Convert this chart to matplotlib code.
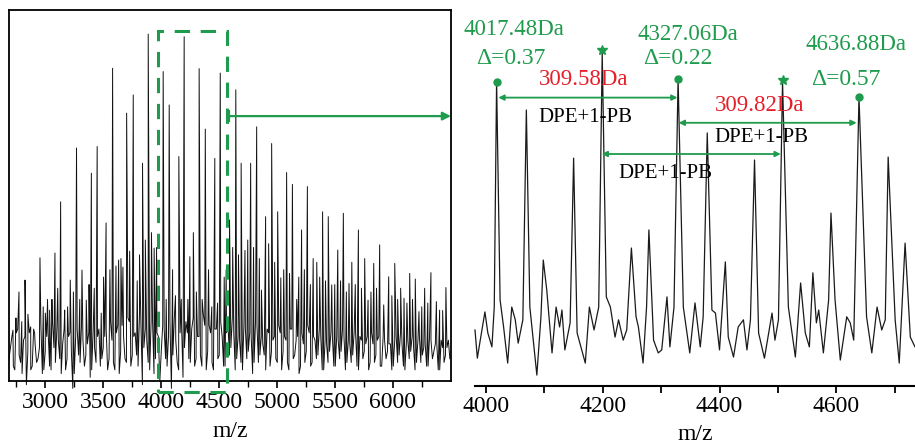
import matplotlib
matplotlib.use("Agg")
import matplotlib.pyplot as plt
from matplotlib.patches import Rectangle

plt.rcParams['font.family'] = ['Liberation Serif', 'DejaVu Serif']

GREEN = '#1e9b4c'
RED = '#e5202b'

# ---------------- Left panel data (overview spectrum) ----------------
left_peak_mz = [2724, 2776, 2828, 2877, 2911, 2957, 3003, 3040, 3086, 3135, 3170, 3218,
                3272, 3319, 3356, 3400, 3450, 3485, 3527, 3583, 3635, 3672, 3704, 3761,
                3795, 3841, 3890, 3941, 4019, 4071, 4100, 4154, 4200, 4249, 4279, 4329,
                4382, 4410, 4464, 4511, 4545, 4562, 4591, 4645, 4691, 4724, 4773, 4825,
                4866, 4902, 4954, 5006, 5033, 5083, 5133, 5170, 5212, 5262, 5312, 5343,
                5393, 5442, 5472, 5524, 5572, 5621, 5645, 5702, 5756, 5785, 5834, 5885,
                5920, 5963, 6015, 6066, 6095, 6144, 6192, 6224, 6273, 6327, 6374, 6402, 6456]
left_peak_int = [13.7, 24, 27.2, 14.6, 12.9, 33.2, 18.3, 19.1, 34.5, 48.3, 19.1, 27.2,
                 62.8, 29.9, 21.8, 56, 63.2, 18.3, 42.6, 84.3, 32.6, 30.7, 72.2, 77.1,
                 27, 58.7, 93.5, 35.8, 83.4, 74.4, 30, 60.5, 92.8, 33.5, 40, 84.2,
                 67.9, 30, 60, 83, 28, 30, 43.4, 78.5, 58.7, 35.2, 58.7, 68.5,
                 24.5, 44.3, 64, 45.6, 27.8, 56.2, 53, 22, 40.7, 52.4, 33, 32,
                 45.6, 44.3, 25.9, 35.3, 45.2, 26.3, 32, 40.7, 33, 21.8, 31.7, 36.7,
                 20.5, 28.1, 31.7, 25, 22.3, 29, 27.5, 18.7, 25, 29.2, 21.4, 19.1, 25.2]

# smaller secondary spikes
left_minor_mz = [2750, 2800, 2853, 2985, 3022, 3060, 3110, 3195, 3245, 3300, 3380, 3425,
                 3505, 3560, 3612, 3655, 3730, 3815, 3865, 3918, 3962, 4045, 4125, 4175,
                 4232, 4305, 4355, 4438, 4488, 4618, 4668, 4748, 4798, 4848, 4928, 4980,
                 5058, 5108, 5188, 5236, 5288, 5368, 5418, 5498, 5548, 5598, 5675, 5728,
                 5810, 5858, 5990, 6040, 6120, 6168, 6248, 6300, 6428]
left_minor_int = [17, 16, 18, 20, 22, 22, 25, 20, 24, 22, 26, 25,
                  28, 30, 31, 33, 35, 34, 38, 40, 36, 22, 23, 22,
                  22, 24, 22, 20, 21, 36, 34, 38, 36, 33, 37, 32,
                  30, 29, 28, 30, 26, 28, 27, 26, 27, 24, 26, 25,
                  24, 25, 23, 22, 21, 22, 20, 21, 19]

# baseline noise read every 25 Da (two interleaved readings)
left_noise_a_start = 2690
left_noise_b_start = 2702.5
left_noise_step = 25
left_noise_a = [6, 12, 3, 14, 5, 11, -1, 13, 4, 10, 6, 15, 3,
                12, 4, 16, 5, 11, 2, 14, 6, 13, -2, 12, 7, 15, 4, 10, 1, 13, 5, 14, 6,
                12, 3, 16, 5, 13, 2, 15, 6, 17, 4, 12, 7, 18, -1, 14, 5, 16, 2, 13, 0,
                15, 6, 12, -2, 17, 5, 13, 1, 16, 6, 14, 4, 12, 7, 18, 3, 15, 5, 14, 6,
                16, 4, 13, 7, 17, 3, 12, 5, 15, 6, 13, 2, 16, 5, 12, 7, 14, 4, 11, 6,
                15, 3, 12, 5, 14, 6, 11, 2, 13, 5, 15, 4, 12, 6, 14, 3, 11, 5, 13, 4,
                12, 6, 14, 3, 11, 5, 13, 4, 12, 6, 10, 3, 13, 5, 11, 4, 12, 6, 10, 3,
                11, 5, 13, 4, 10, 6, 12, 3, 11, 5, 9, 4, 12, 6, 10, 3, 11, 5, 9, 6]
left_noise_b = [9, 4, 13, 7, 2, 12, 8, 3, 14, 5, 9, 2,
                8, 13, 3, 9, 14, 6, 10, 3, 12, 8, 2, 14, 5, 11, 7, 13, 3, 9, 12, 4,
                9, 14, 6, 11, 3, 15, 8, 12, 5, 16, 7, 13, 4, 15, 9, 11, 3, 16, 6, 12,
                8, 14, 4, 16, 7, 11, 3, 15, 9, 13, 5, 17, 6, 12, 4, 15, 8, 13, 3, 14,
                7, 12, 4, 15, 9, 13, 6, 11, 3, 14, 8, 12, 5, 15, 7, 10, 3, 13, 8, 12,
                5, 13, 8, 11, 3, 14, 7, 12, 4, 10, 8, 13, 5, 11, 7, 12, 3, 10, 8, 12,
                4, 11, 8, 12, 5, 10, 7, 13, 3, 11, 8, 12, 5, 10, 7, 12, 4, 11, 8, 10,
                4, 12, 7, 10, 3, 11, 8, 9, 5, 12, 7, 10, 4, 11, 8, 10, 3, 9, 7, 11]

left_xticks = [3000, 3500, 4000, 4500, 5000, 5500, 6000]

# ---------------- Right panel data (zoomed trace) ----------------
right_mz = [3981, 3985, 3990, 3998, 4003, 4010, 4014, 4018, 4024, 4030, 4037, 4044, 4050,
            4055, 4063, 4069, 4075, 4087, 4094, 4098, 4104, 4113, 4120, 4126, 4130, 4135,
            4144, 4150, 4156, 4170, 4177, 4185, 4193, 4199, 4206, 4213, 4221, 4227, 4235,
            4241, 4249, 4257, 4261, 4269, 4275, 4279, 4287, 4295, 4301, 4310, 4315, 4322,
            4329, 4338, 4349, 4358, 4367, 4372, 4379, 4387, 4393, 4400, 4410, 4415, 4424,
            4432, 4441, 4447, 4453, 4460, 4467, 4477, 4490, 4495, 4501, 4508, 4518, 4530,
            4539, 4547, 4554, 4560, 4566, 4570, 4578, 4587, 4591, 4598, 4607, 4618, 4624,
            4630, 4639, 4652, 4661, 4670, 4678, 4684, 4689, 4701, 4708, 4718, 4727, 4735]
right_int = [14.9, 7.4, 12.2, 19.7, 14.1, 10.4, 21.0, 80.9, 22.9, 15.7, 6.1, 21.0, 17.6,
             11.4, 17.6, 73.4, 21.0, 2.9, 18.4, 33.5, 25.5, 8.8, 21.0, 15.7, 20.2, 9.6,
             16.8, 60.6, 14.1, 6.1, 21.0, 14.9, 21.0, 88.5, 23.7, 21.0, 13.0, 17.6, 12.2,
             14.9, 36.7, 18.4, 15.7, 6.1, 21.0, 41.5, 12.2, 8.8, 9.6, 23.7, 10.4, 21.0,
             81.6, 21.0, 8.8, 22.1, 10.4, 18.4, 67.3, 20.2, 19.4, 9.6, 33.0, 13.0, 7.7,
             15.7, 17.6, 9.6, 17.6, 60.1, 14.1, 7.4, 19.4, 12.2, 17.6, 80.9, 21.0, 7.7,
             27.4, 14.1, 10.4, 30.1, 16.8, 20.2, 8.8, 22.9, 46.0, 22.9, 6.9, 18.4, 16.8,
             12.2, 76.9, 18.4, 8.8, 21.0, 14.9, 17.6, 60.9, 17.6, 6.1, 38.0, 13.0, 10.4]

right_xticks = [4000, 4200, 4400, 4600]

dot_mz = [4018, 4329, 4639]
dot_int = [80.9, 81.6, 76.9]
star_mz = [4199, 4508]
star_int = [89.4, 81.5]

mass_labels = ['4017.48Da', '4327.06Da', '4636.88Da']
mass_label_pos = [(4048, 94.7), (4345, 93.4), (4634, 90.7)]
delta_labels = ['Δ=0.37', 'Δ=0.22', 'Δ=0.57']
delta_label_pos = [(4042, 87.2), (4328, 87.2), (4617, 81.4)]
diff_labels = ['309.58Da', '309.82Da']
diff_label_pos = [(4167, 81.4), (4468, 74.7)]
unit_labels = ['DPE+1-PB', 'DPE+1-PB', 'DPE+1-PB']
unit_label_pos = [(4170, 71.5), (4471, 66.2), (4307, 56.6)]
arrow_spans = [(4021, 4328, 76.7), (4330, 4635, 70.0), (4198, 4505, 61.7)]

# ---------------- Figure ----------------
W, H = 915, 443
fig = plt.figure(figsize=(W / 100, H / 100), dpi=100)

def frac(x0, y0, x1, y1):
    return [x0 / W, 1 - y1 / H, (x1 - x0) / W, (y1 - y0) / H]

# Left axes
axL = fig.add_axes(frac(9, 10, 451, 381))
pts = [(left_noise_a_start + i * left_noise_step, v) for i, v in enumerate(left_noise_a)]
pts += [(left_noise_b_start + i * left_noise_step, v) for i, v in enumerate(left_noise_b)]
pts += list(zip(left_peak_mz, left_peak_int))
pts += list(zip(left_minor_mz, left_minor_int))
pts = [p for p in pts if p[0] <= 6500]
pts.sort(key=lambda p: p[0])
axL.plot([p[0] for p in pts], [p[1] for p in pts], color='#111111', lw=0.7, clip_on=False)
axL.set_xlim(2690, 6500)
axL.set_ylim(0, 100)
axL.set_yticks([])
axL.set_xticks(left_xticks)
axL.set_xticks([t + 250 for t in [2500] + left_xticks], minor=True)
axL.tick_params(axis='x', which='major', direction='out', length=5, width=1.2,
                labelsize=17, pad=3)
axL.tick_params(axis='x', which='minor', direction='out', length=4, width=1.0)
for s in axL.spines.values():
    s.set_linewidth(1.3)
axL.set_xlabel('m/z', fontsize=17, labelpad=6)

rect = Rectangle((3973, -3), 4568 - 3973, 94.3 + 3, fill=False, edgecolor=GREEN,
                 lw=2.2, linestyle=(0, (5, 3.5)), clip_on=False, zorder=5)
axL.add_patch(rect)
axL.annotate('', xy=(6500, 71.4), xytext=(4585, 71.4),
             arrowprops=dict(arrowstyle='-|>', color=GREEN, lw=1.6, mutation_scale=12,
                             shrinkA=0, shrinkB=0), annotation_clip=False)
axL.plot([4585], [71.4], marker='|', color=GREEN, ms=9, mew=1.6, clip_on=False)

# Right axes
axR = fig.add_axes(frac(475, 10, 915, 386))
axR.plot(right_mz, right_int, color='#1a1a1a', lw=0.9, clip_on=False)
axR.set_xlim(3981, 4735)
axR.set_ylim(0, 100)
axR.set_yticks([])
for k in ['top', 'left', 'right']:
    axR.spines[k].set_visible(False)
axR.spines['bottom'].set_linewidth(1.5)
axR.set_xticks(right_xticks)
axR.set_xticks([4100, 4300, 4500, 4700], minor=True)
axR.tick_params(axis='x', which='major', direction='out', length=5, width=1.3,
                labelsize=17, pad=2)
axR.tick_params(axis='x', which='minor', direction='out', length=5, width=1.3)
axR.set_xlabel('m/z', fontsize=17, labelpad=5)

axR.plot(dot_mz, dot_int, 'o', color=GREEN, ms=5, clip_on=False, zorder=6)
axR.plot(star_mz, star_int, '*', color=GREEN, ms=7, clip_on=False, zorder=6)

for (x0, x1, y) in arrow_spans:
    axR.annotate('', xy=(x1, y), xytext=(x0, y),
                 arrowprops=dict(arrowstyle='<|-|>', color=GREEN, lw=1.3,
                                 mutation_scale=8, shrinkA=0, shrinkB=0),
                 annotation_clip=False)

for t, (x, y) in zip(mass_labels, mass_label_pos):
    axR.text(x, y, t, color=GREEN, fontsize=16.5, ha='center', va='center')
for t, (x, y) in zip(delta_labels, delta_label_pos):
    axR.text(x, y, t, color=GREEN, fontsize=17, ha='center', va='center')
for t, (x, y) in zip(diff_labels, diff_label_pos):
    axR.text(x, y, t, color=RED, fontsize=16.5, ha='center', va='center')
for t, (x, y) in zip(unit_labels, unit_label_pos):
    axR.text(x, y, t, color='black', fontsize=15, ha='center', va='center')

fig.savefig('out.png', dpi=100)
